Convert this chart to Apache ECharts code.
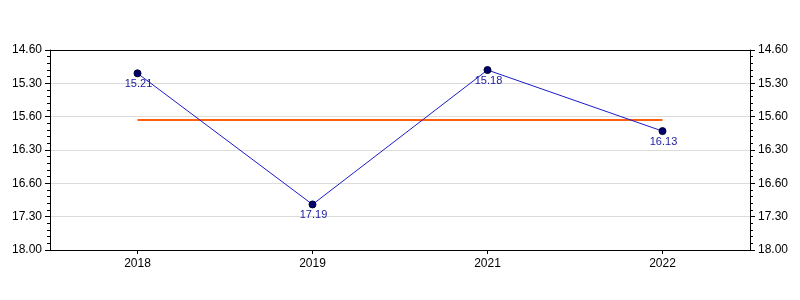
<!DOCTYPE html>
<html>
<head>
<meta charset="utf-8">
<script src="https://cdn.jsdelivr.net/npm/echarts@6/dist/echarts.min.js"></script>
<style>html,body{margin:0;padding:0;background:#fff;}#c{width:800px;height:300px;}</style>
</head>
<body>
<div id="c"></div>
<script>
var categories = ['2018', '2019', '2021', '2022'];
var times = ['15.21', '17.19', '15.18', '16.13'];
var meanTimes = ['16.03', '16.03', '16.03', '16.03'];
var tickLabels = ['14.60', '15.30', '15.60', '16.30', '16.60', '17.30', '18.00'];

function toSec(s) {
  var p = s.split('.');
  return parseInt(p[0], 10) * 60 + parseInt(p[1], 10);
}
var yMin = toSec('15.00');
var yMax = toSec('18.00');
var step = 30;

function fmt(v) {
  var i = Math.round((v - yMin) / step);
  return tickLabels[i] !== undefined ? tickLabels[i] : '';
}

var font = 'Liberation Sans, Arial, sans-serif';
function yAx(pos) {
  return {
    type: 'value', position: pos, inverse: true,
    min: yMin, max: yMax, interval: step,
    axisLine: { show: true, lineStyle: { color: '#000', width: 1 } },
    axisTick: { show: true, length: 5, lineStyle: { color: '#000' } },
    minorTick: { show: true, splitNumber: 5, length: 3, lineStyle: { color: '#000' } },
    splitLine: { show: pos === 'left', lineStyle: { color: '#dcdcdc', width: 1 } },
    axisLabel: { formatter: fmt, color: '#000', fontFamily: font, fontSize: 12, margin: 8 }
  };
}

var chart = echarts.init(document.getElementById('c'), null, { renderer: 'canvas' });
chart.setOption({
  animation: false,
  backgroundColor: '#fff',
  grid: { left: 50, right: 50, top: 50, bottom: 50 },
  xAxis: [{
    type: 'category', data: categories, boundaryGap: true,
    axisLine: { lineStyle: { color: '#000', width: 1 } },
    axisTick: { show: true, alignWithLabel: true, length: 4, lineStyle: { color: '#000' } },
    axisLabel: { color: '#000', fontFamily: font, fontSize: 12, margin: 8 }
  }, {
    type: 'category', data: categories, position: 'top', boundaryGap: true,
    axisLine: { show: true, onZero: false, lineStyle: { color: '#000', width: 1 } },
    axisTick: { show: false }, axisLabel: { show: false }, splitLine: { show: false }
  }],
  yAxis: [yAx('left'), yAx('right')],
  series: [
    {
      type: 'line', data: meanTimes.map(toSec), symbol: 'none',
      lineStyle: { color: '#ff6010', width: 2 }, z: 2, silent: true
    },
    {
      type: 'line', data: times.map(toSec), symbol: 'circle', symbolSize: 7,
      lineStyle: { color: '#1c1cc8', width: 1 },
      itemStyle: { color: '#00006e', borderColor: '#000030', borderWidth: 1 },
      label: {
        show: true, position: 'bottom', distance: 1, offset: [1, 0],
        formatter: function (p) { return times[p.dataIndex]; },
        color: '#1a1aa0', fontFamily: font, fontSize: 11
      },
      z: 3
    }
  ]
});
</script>
</body>
</html>
